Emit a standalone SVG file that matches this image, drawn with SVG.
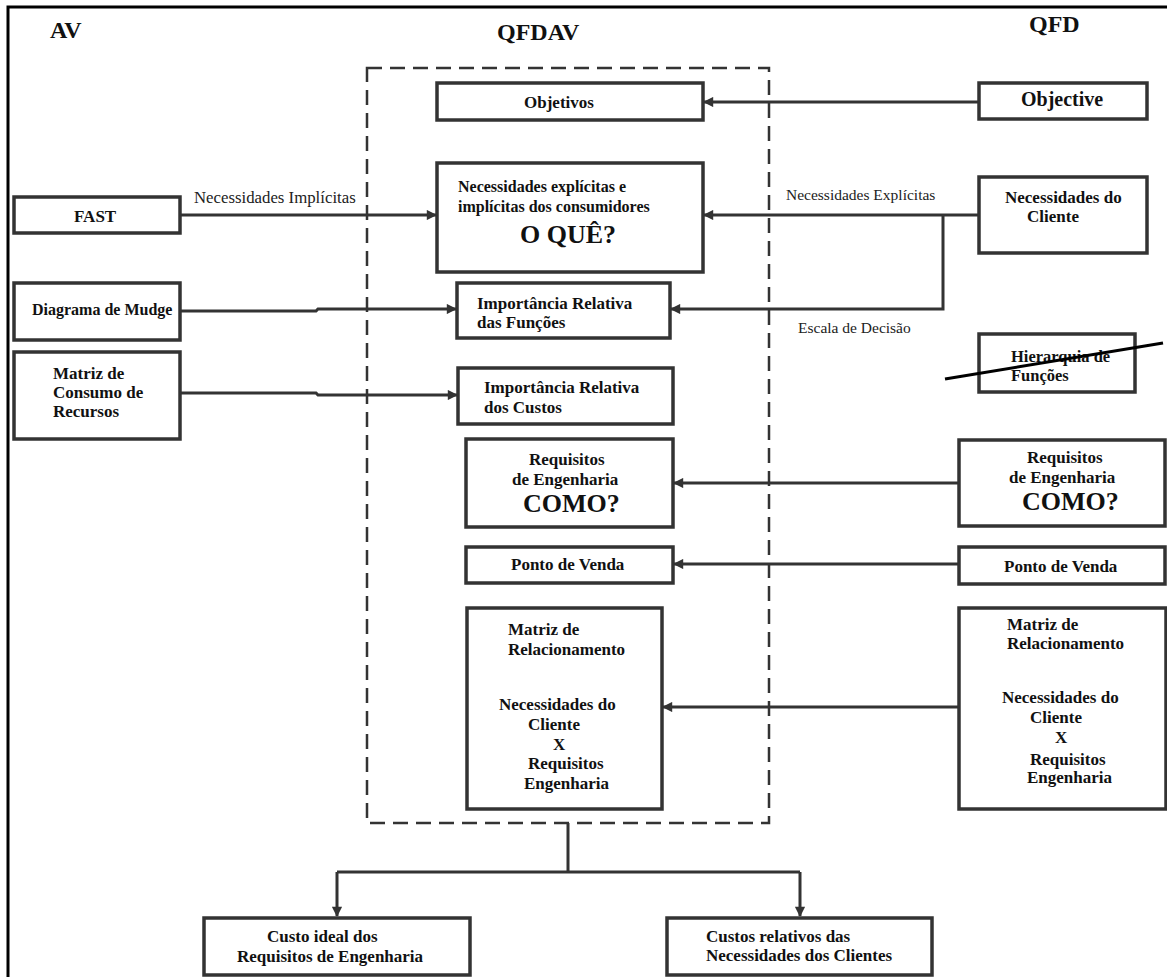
<svg xmlns="http://www.w3.org/2000/svg" width="1167" height="977" viewBox="0 0 1167 977">
  <style>
    .box { fill: #fff; stroke: #333; stroke-width: 3.5; }
    .wire { fill: none; stroke: #333; stroke-width: 3; }
    .t { font-family: "Liberation Serif", "Times New Roman", serif; font-weight: bold; font-size: 17px; fill: #111; }
    .t16 { font-size: 16px; }
    .big { font-size: 26px; }
    .title { font-family: "Liberation Serif", "Times New Roman", serif; font-weight: bold; font-size: 24px; fill: #111; }
    .lbl { font-family: "Liberation Serif", "Times New Roman", serif; font-size: 15.5px; fill: #222; }
  </style>
  <defs>
    <marker id="arrow" viewBox="0 0 10 10" refX="9" refY="5" markerWidth="4" markerHeight="3.4" orient="auto" markerUnits="strokeWidth">
      <path d="M0,0 L10,5 L0,10 z" fill="#333"/>
    </marker>
  </defs>

  <rect width="1167" height="977" fill="#fff"/>
  <!-- page frame -->
  <path d="M8,977 V7 H1167" fill="none" stroke="#000" stroke-width="3"/>

  <!-- column headings -->
  <text class="title" x="50" y="38">AV</text>
  <text class="title" x="497" y="40">QFDAV</text>
  <text class="title" x="1029" y="32">QFD</text>

  <!-- QFDAV boundary -->
  <rect id="qfdav-boundary" x="367" y="68" width="402" height="755" fill="none" stroke="#333" stroke-width="2.5" stroke-dasharray="15 8"/>

  <g id="connectors">
    <path class="wire" d="M979,102 H704" marker-end="url(#arrow)"/>
    <path class="wire" d="M180,215 H436" marker-end="url(#arrow)"/>
    <path class="wire" d="M979,215 H704" marker-end="url(#arrow)"/>
    <path class="wire" d="M943,215 V309 H671" marker-end="url(#arrow)"/>
    <path class="wire" d="M180,311 H316 L318,309 H456" marker-end="url(#arrow)"/>
    <path class="wire" d="M180,393 H316 L318,395 H457" marker-end="url(#arrow)"/>
    <path class="wire" d="M959,483 H674" marker-end="url(#arrow)"/>
    <path class="wire" d="M959,564 H674" marker-end="url(#arrow)"/>
    <path class="wire" d="M959,707 H663" marker-end="url(#arrow)"/>
    <path class="wire" d="M568,823 V872"/>
    <path class="wire" d="M337,872 H800"/>
    <path class="wire" d="M337,872 V916" marker-end="url(#arrow)"/>
    <path class="wire" d="M800,872 V916" marker-end="url(#arrow)"/>
    <text class="lbl" style="font-size:16.8px" x="194" y="203">Necessidades Implícitas</text>
    <text class="lbl" x="786" y="200">Necessidades Explícitas</text>
    <text class="lbl" x="798" y="333">Escala de Decisão</text>
  </g>

  <!-- AV column -->
  <g id="fast">
    <rect class="box" x="14" y="197" width="166" height="36"/>
    <text class="t" x="74" y="222">FAST</text>
  </g>
  <g id="mudge">
    <rect class="box" x="14" y="283" width="166" height="57"/>
    <text class="t t16" x="32" y="315">Diagrama de Mudge</text>
  </g>
  <g id="matriz-consumo">
    <rect class="box" x="14" y="352" width="166" height="87"/>
    <text class="t" x="53" y="379">Matriz de</text>
    <text class="t" x="53" y="398">Consumo de</text>
    <text class="t" x="53" y="417">Recursos</text>
  </g>

  <!-- QFDAV column -->
  <g id="objetivos">
    <rect class="box" x="437" y="83" width="266" height="37"/>
    <text class="t" x="524" y="108">Objetivos</text>
  </g>
  <g id="necessidades">
    <rect class="box" x="437" y="163" width="266" height="109"/>
    <text class="t t16" x="458" y="192">Necessidades explícitas e</text>
    <text class="t t16" x="458" y="212">implícitas dos consumidores</text>
    <text class="t big" x="520" y="243">O QUÊ?</text>
  </g>
  <g id="imp-funcoes">
    <rect class="box" x="457" y="283" width="213" height="55"/>
    <text class="t" x="477" y="309">Importância Relativa</text>
    <text class="t" x="477" y="328">das Funções</text>
  </g>
  <g id="imp-custos">
    <rect class="box" x="458" y="368" width="215" height="56"/>
    <text class="t" x="484" y="393">Importância Relativa</text>
    <text class="t" x="484" y="413">dos Custos</text>
  </g>
  <g id="requisitos">
    <rect class="box" x="466" y="439" width="207" height="88"/>
    <text class="t" x="529" y="465">Requisitos</text>
    <text class="t" x="512" y="485">de Engenharia</text>
    <text class="t big" x="523" y="512">COMO?</text>
  </g>
  <g id="ponto-venda">
    <rect class="box" x="466" y="547" width="207" height="36"/>
    <text class="t" x="511" y="570">Ponto de Venda</text>
  </g>
  <g id="matriz-relacionamento">
    <rect class="box" x="467" y="608" width="195" height="201"/>
    <text class="t" x="508" y="635">Matriz de</text>
    <text class="t" x="508" y="655">Relacionamento</text>
    <text class="t" x="499" y="710">Necessidades do</text>
    <text class="t" x="528" y="730">Cliente</text>
    <text class="t" x="553" y="750">X</text>
    <text class="t" x="528" y="769">Requisitos</text>
    <text class="t" x="524" y="789">Engenharia</text>
  </g>

  <!-- QFD column -->
  <g id="objective">
    <rect class="box" x="979" y="83" width="168" height="36"/>
    <text class="t" style="font-size:20px" x="1021" y="106">Objective</text>
  </g>
  <g id="necessidades-cliente">
    <rect class="box" x="979" y="177" width="168" height="76"/>
    <text class="t" x="1005" y="203">Necessidades do</text>
    <text class="t" x="1027" y="222">Cliente</text>
  </g>
  <g id="hierarquia">
    <rect class="box" x="979" y="334" width="156" height="58"/>
    <text class="t" style="font-size:16.5px" x="1011" y="362">Hierarquia de</text>
    <text class="t" style="font-size:16.5px" x="1011" y="381">Funções</text>
    <path d="M945,379 L1163,343" stroke="#000" stroke-width="3" fill="none"/>
  </g>
  <g id="requisitos-qfd">
    <rect class="box" x="959" y="440" width="206" height="86"/>
    <text class="t" x="1027" y="463">Requisitos</text>
    <text class="t" x="1009" y="483">de Engenharia</text>
    <text class="t big" x="1022" y="510">COMO?</text>
  </g>
  <g id="ponto-venda-qfd">
    <rect class="box" x="959" y="547" width="206" height="37"/>
    <text class="t" x="1004" y="572">Ponto de Venda</text>
  </g>
  <g id="matriz-relacionamento-qfd">
    <rect class="box" x="959" y="608" width="207" height="201"/>
    <text class="t" x="1007" y="630">Matriz de</text>
    <text class="t" x="1007" y="649">Relacionamento</text>
    <text class="t" x="1002" y="703">Necessidades do</text>
    <text class="t" x="1030" y="723">Cliente</text>
    <text class="t" x="1055" y="743">X</text>
    <text class="t" x="1030" y="765">Requisitos</text>
    <text class="t" x="1027" y="783">Engenharia</text>
  </g>

  <!-- results -->
  <g id="custo-ideal">
    <rect class="box" x="204" y="918" width="266" height="57"/>
    <text class="t" x="267" y="942">Custo ideal dos</text>
    <text class="t" x="237" y="962">Requisitos de Engenharia</text>
  </g>
  <g id="custos-relativos">
    <rect class="box" x="667" y="918" width="265" height="57"/>
    <text class="t" x="706" y="942">Custos relativos das</text>
    <text class="t" x="706" y="961">Necessidades dos Clientes</text>
  </g>
</svg>
